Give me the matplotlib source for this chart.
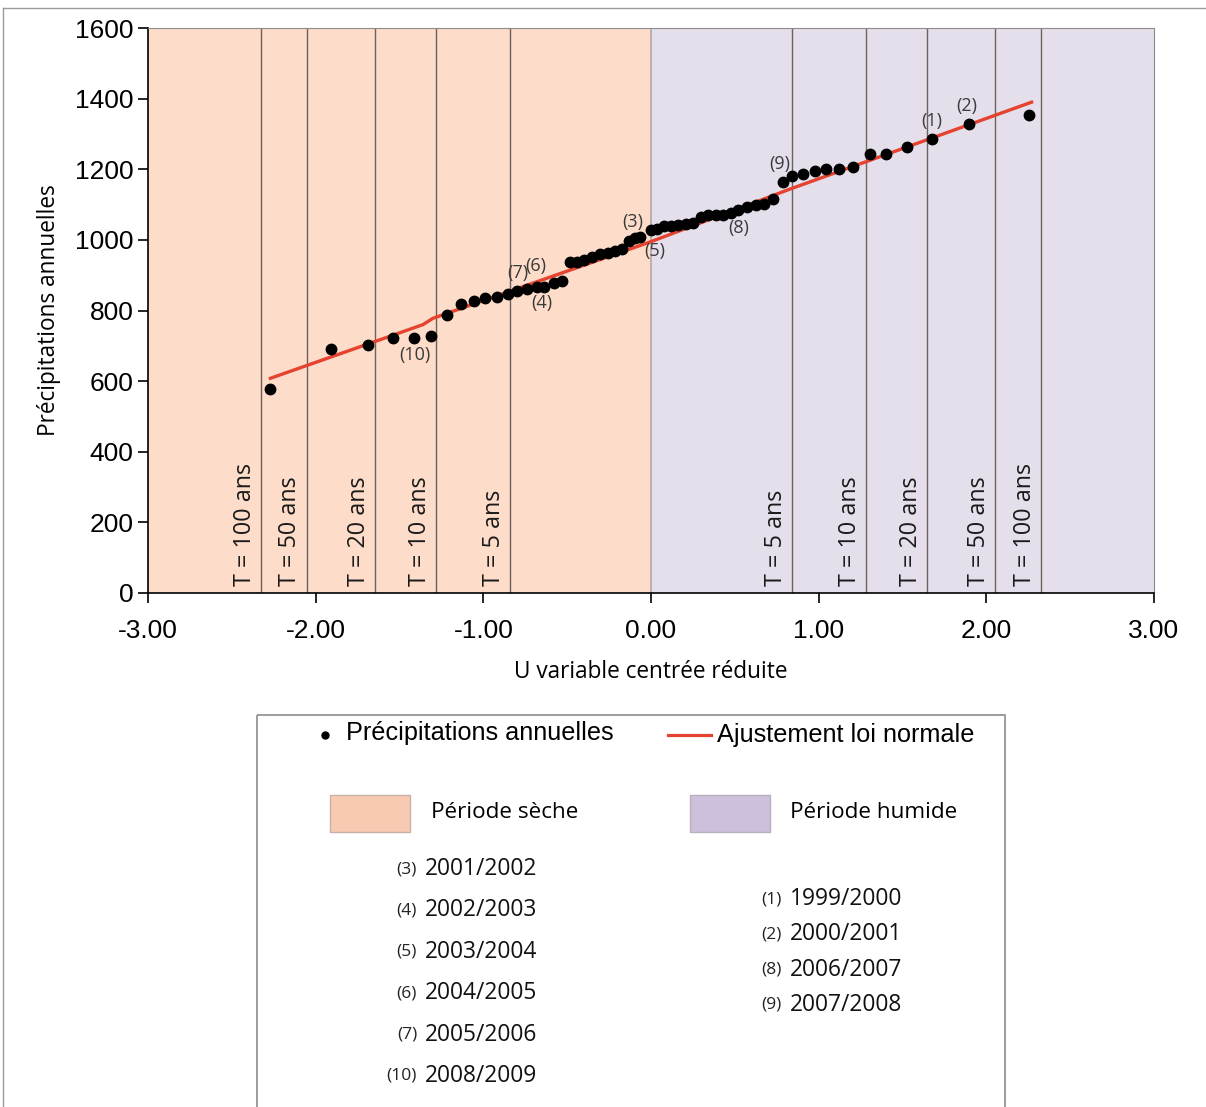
import matplotlib
matplotlib.use("Agg")
from matplotlib import pyplot as plt
from matplotlib.patches import Rectangle

# ----- data -----
# reduced centred variable U and annual precipitation (mm)
u_obs = [-2.27, -1.91, -1.69, -1.54, -1.415, -1.31, -1.215, -1.135, -1.054, -0.99,
         -0.92, -0.855, -0.80, -0.738, -0.68, -0.636, -0.58, -0.53, -0.483, -0.443,
         -0.40, -0.35, -0.304, -0.258, -0.215, -0.175, -0.13, -0.095, -0.066, 0.0,
         0.036, 0.08, 0.12, 0.163, 0.208, 0.252, 0.30, 0.342, 0.388, 0.431,
         0.477, 0.52, 0.574, 0.626, 0.674, 0.726, 0.785, 0.843, 0.908, 0.978,
         1.044, 1.121, 1.203, 1.306, 1.40, 1.529, 1.678, 1.897, 2.256]
p_obs = [578, 690, 702, 723, 723, 728, 787, 818, 827, 834,
         839, 848, 856, 860, 867, 867, 877, 884, 937, 938,
         942, 951, 959, 964, 969, 975, 997, 1006, 1009, 1027,
         1031, 1039, 1040, 1043, 1045, 1049, 1066, 1070, 1070, 1070,
         1075, 1085, 1092, 1099, 1103, 1115, 1165, 1182, 1186, 1195,
         1200, 1200, 1207, 1242, 1242, 1262, 1285, 1327, 1354]

# normal-law fit line (vertices)
u_fit = [-2.27, -1.36, -1.30, 0.0, 0.83, 2.27]
p_fit = [608, 760, 778, 995, 1144, 1390]

# return periods
t_labels = ["T = 100 ans", "T = 50 ans", "T = 20 ans", "T = 10 ans", "T = 5 ans"]
t_u = [2.326, 2.054, 1.645, 1.282, 0.842]

# numbered years on the chart
ann_text = ["(1)", "(2)", "(3)", "(4)", "(5)", "(6)", "(7)", "(8)", "(9)", "(10)"]
ann_u = [1.676, 1.885, -0.107, -0.65, 0.024, -0.686, -0.793, 0.525, 0.77, -1.41]
ann_p = [1337, 1379, 1051, 821, 968, 926, 906, 1034, 1215, 674]

dry_nums = ["(3)", "(4)", "(5)", "(6)", "(7)", "(10)"]
dry_years = ["2001/2002", "2002/2003", "2003/2004", "2004/2005", "2005/2006", "2008/2009"]
wet_nums = ["(1)", "(2)", "(8)", "(9)"]
wet_years = ["1999/2000", "2000/2001", "2006/2007", "2007/2008"]

dry_col = "#fddcc9"
wet_col = "#e4dfeb"
red = "#e5432f"
lab_font = "Open Sans"
num_font = "Liberation Sans"

fig = plt.figure(figsize=(12.06, 11.07), dpi=100)
ax = fig.add_axes([148 / 1206, 1 - 593 / 1107, (1154 - 148) / 1206, (593 - 28) / 1107])

ax.axvspan(-3, 0, color=dry_col, zorder=0, lw=0)
ax.axvspan(0, 3, color=wet_col, zorder=0, lw=0)
ax.axvline(0, color="#b0a8a8", lw=1.2, zorder=1)

for lab, t in zip(t_labels, t_u):
    for s in (-1, 1):
        ax.axvline(s * t, color="#6e605c", lw=1, zorder=1)
        ax.text(s * t - 0.025, 20, lab, rotation=90, ha="right", va="bottom",
                fontsize=16.8, family=lab_font, color="#1a1a1a", zorder=2)

ax.plot(u_fit, p_fit, color=red, lw=2.4, zorder=3)
ax.plot(u_obs, p_obs, "o", color="black", markersize=7.5, zorder=4)

for t, x, y in zip(ann_text, ann_u, ann_p):
    ax.text(x, y, t, ha="center", va="center", fontsize=13, family=lab_font,
            color="#3a3a3a", zorder=5)

ax.set_xlim(-3, 3)
ax.set_ylim(0, 1600)
ax.set_xticks([-3, -2, -1, 0, 1, 2, 3])
ax.set_xticklabels(["%.2f" % v for v in [-3, -2, -1, 0, 1, 2, 3]])
ax.set_yticks(range(0, 1601, 200))
ax.tick_params(axis="both", labelsize=19, direction="out", length=7, width=1.2, color="black")
ax.tick_params(axis="x", pad=12)
for lbl in ax.get_xticklabels() + ax.get_yticklabels():
    lbl.set_family(num_font)
ax.spines["top"].set_color("#8c8c8c")
ax.spines["right"].set_color("#8c8c8c")
ax.spines["left"].set_linewidth(1.2)
ax.spines["bottom"].set_linewidth(1.2)

ax.set_xlabel("U variable centrée réduite", fontsize=16.3, family=lab_font, labelpad=12)
ax.set_ylabel("Précipitations annuelles", fontsize=16.3, family=lab_font, labelpad=10)

# ----- overlay in pixel coords for frame and legend box -----
ov = fig.add_axes([0, 0, 1, 1], zorder=-1)
ov.set_xlim(0, 1206)
ov.set_ylim(1107, 0)
ov.axis("off")
ov.plot([3, 1206], [8, 8], color="#9a9a9a", lw=1)
ov.plot([3, 3], [8, 1107], color="#9a9a9a", lw=1)

leg = fig.add_axes([0, 0, 1, 1], zorder=2)
leg.set_xlim(0, 1206)
leg.set_ylim(1107, 0)
leg.axis("off")
leg.add_patch(Rectangle((257, 715), 748, 420, fill=False, ec="#8c8c8c", lw=1.2))
leg.plot([325], [735], "o", color="black", markersize=5)
leg.text(346, 733, "Précipitations annuelles", fontsize=18.2, family=num_font, va="center")
leg.plot([668, 711], [735, 735], color=red, lw=2.3)
leg.text(717, 735, "Ajustement loi normale", fontsize=18.2, family=num_font, va="center")
leg.add_patch(Rectangle((330, 795), 80, 37, fc="#f9cab2", ec="#c8b0a8", lw=1))
leg.text(431, 813, "Période sèche", fontsize=16.2, family=lab_font, va="center")
leg.add_patch(Rectangle((690, 795), 80, 37, fc="#cdc0dc", ec="#b8b0bc", lw=1))
leg.text(790, 813, "Période humide", fontsize=16.2, family=lab_font, va="center")

for i, (n, yr) in enumerate(zip(dry_nums, dry_years)):
    yy = 869 + i * 41.4
    leg.text(417, yy, n, fontsize=12.5, family=lab_font, ha="right", va="center", color="#222")
    leg.text(425, yy, yr, fontsize=16.4, family=lab_font, va="center", color="#111")
for i, (n, yr) in enumerate(zip(wet_nums, wet_years)):
    yy = 899 + i * 35.3
    leg.text(782, yy, n, fontsize=12.5, family=lab_font, ha="right", va="center", color="#222")
    leg.text(790, yy, yr, fontsize=16.4, family=lab_font, va="center", color="#111")

fig.savefig("out.png", dpi=100)
